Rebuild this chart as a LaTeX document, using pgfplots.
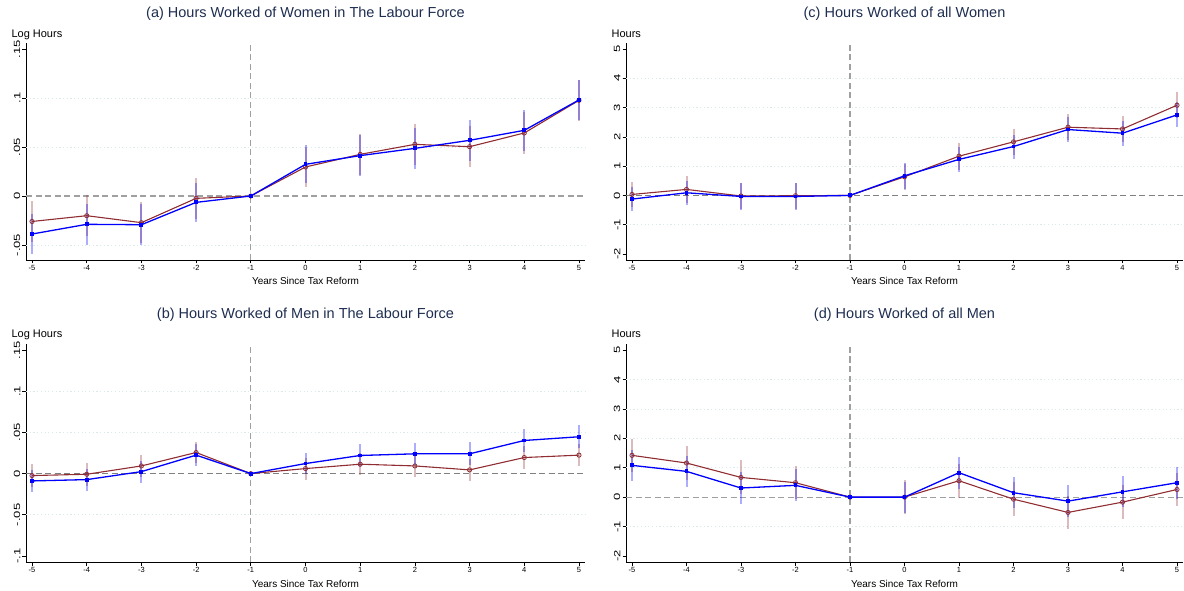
\documentclass[border=0pt]{standalone}
\usepackage{fontspec}
\setmainfont{Liberation Sans}
\usepackage{pgfplots}
\pgfplotsset{compat=1.18}
\usepackage{pgfplotstable}
\definecolor{mar}{RGB}{144,45,50}
\definecolor{blu}{RGB}{0,0,255}
\definecolor{titc}{RGB}{30,45,80}
\definecolor{gridc}{RGB}{218,234,234}
\definecolor{refc}{RGB}{160,160,160}

% x: years; r/re: red estimate and CI half-width; b/be: blue estimate and CI half-width
\pgfplotstableread{
x r re b be
-5 -0.0260 0.0205 -0.0388 0.0207
-4 -0.0201 0.0210 -0.0289 0.0206
-3 -0.0272 0.0210 -0.0293 0.0210
-2 -0.0024 0.0208 -0.0065 0.0200
-1 0 0 0 0
0 0.0296 0.0204 0.0323 0.0195
1 0.0425 0.0210 0.0412 0.0210
2 0.0527 0.0210 0.0486 0.0206
3 0.0503 0.0210 0.0568 0.0207
4 0.0643 0.0210 0.0670 0.0207
5 0.0976 0.0210 0.0980 0.0205
}\tabA
\pgfplotstableread{
x r re b be
-5 -0.0024 0.0135 -0.0089 0.0134
-4 -0.0008 0.0137 -0.0073 0.0134
-3 0.0093 0.0137 0.0024 0.0134
-2 0.0256 0.0130 0.0224 0.0130
-1 0 0 0 0
0 0.0061 0.0134 0.0122 0.0130
1 0.0114 0.0134 0.0220 0.0136
2 0.0093 0.0134 0.0240 0.0136
3 0.0045 0.0134 0.0240 0.0138
4 0.0195 0.0134 0.0402 0.0138
5 0.0224 0.0134 0.0447 0.0138
}\tabB
\pgfplotstableread{
x r re b be
-5 0.034 0.44 -0.125 0.40
-4 0.205 0.45 0.090 0.40
-3 -0.020 0.45 -0.035 0.45
-2 -0.010 0.45 -0.035 0.45
-1 0 0 0 0
0 0.636 0.45 0.670 0.44
1 1.340 0.46 1.230 0.43
2 1.830 0.45 1.670 0.41
3 2.330 0.45 2.250 0.43
4 2.270 0.45 2.125 0.43
5 3.080 0.45 2.750 0.43
}\tabC
\pgfplotstableread{
x r re b be
-5 1.420 0.57 1.080 0.52
-4 1.160 0.57 0.875 0.53
-3 0.670 0.58 0.310 0.54
-2 0.490 0.57 0.400 0.54
-1 0 0 0 0
0 0.000 0.57 0.000 0.53
1 0.557 0.57 0.830 0.54
2 -0.070 0.57 0.150 0.53
3 -0.520 0.57 -0.136 0.54
4 -0.170 0.57 0.180 0.53
5 0.260 0.57 0.490 0.54
}\tabD

\tikzset{
  gridl/.style={gridc, line width=0.7pt, dash pattern=on 1.2pt off 2.5pt},
  refl/.style={refc, line width=1.1pt, dash pattern=on 6pt off 3.5pt},
}
\pgfplotsset{
  panel/.style={
    scale only axis,
    xmin=-5.11, xmax=5.11,
    axis x line*=bottom, axis y line*=left,
    axis line style={black, line width=0.9pt, -},
    xtick={-5,-4,-3,-2,-1,0,1,2,3,4,5},
    xticklabels={-5,-4,-3,-2,-1,0,1,2,3,4,5},
    tick align=outside, major tick length=3.5pt,
    tick style={black, line width=0.7pt},
    xticklabel style={font=\fontsize{7.5}{8}\selectfont, inner sep=1.5pt},
    yticklabel style={font=\fontsize{9}{10}\selectfont, rotate=90, xscale=1.45, anchor=south, inner sep=2pt},
    xlabel={Years Since Tax Reform},
    xlabel style={font=\fontsize{10}{12}\selectfont, at={(axis description cs:0.5,-0.115)}, anchor=base},
    title style={font=\fontsize{14.5}{17}\selectfont, color=titc, at={(axis description cs:0.5,1.0876)}, anchor=base},
    ylabel style={font=\fontsize{11}{13}\selectfont, rotate=-90, at={(axis description cs:-0.0322,1.0276)}, anchor=base west},
    clip mode=individual,
  },
  cir/.style={draw=none, mark=none, forget plot,
    error bars/.cd, y dir=both, y explicit, error mark=none,
    error bar style={line width=2pt, color=#1, opacity=0.32}},
  redl/.style={mar, line width=1.1pt, mark=o, mark size=2.1pt, mark options={line width=0.8pt, fill=mar!25}},
  blul/.style={blu, line width=1.3pt, mark=square*, mark size=1.3pt},
}

\begin{document}
\begin{tikzpicture}
\useasboundingbox (0,0) rectangle (1184pt,590pt);

% (a)
\begin{axis}[panel, at={(26pt,330pt)}, anchor=south west, width=559pt, height=217pt,
  ymin=-0.0653, ymax=0.1561,
  ytick={-0.05,0,0.05,0.1,0.15}, yticklabels={-.05,0,.05,.1,.15},
  title={(a) Hours Worked of Women in The Labour Force}, ylabel={Log Hours}]
  \draw[gridl] ({rel axis cs:0,0}|-{axis cs:0,0.1}) -- ({rel axis cs:1,0}|-{axis cs:0,0.1});
  \draw[gridl] ({rel axis cs:0,0}|-{axis cs:0,0.05}) -- ({rel axis cs:1,0}|-{axis cs:0,0.05});
  \draw[gridl] ({rel axis cs:0,0}|-{axis cs:0,-0.05}) -- ({rel axis cs:1,0}|-{axis cs:0,-0.05});
  \draw[refl] ({rel axis cs:0,0}|-{axis cs:0,0}) -- ({rel axis cs:1,0}|-{axis cs:0,0});
  \draw[refl] ({axis cs:-1,0}|-{rel axis cs:0,0}) -- ({axis cs:-1,0}|-{rel axis cs:0,1});
  \addplot[cir=mar] table[x=x, y=r, y error=re] {\tabA};
  \addplot[cir=blu] table[x=x, y=b, y error=be] {\tabA};
  \addplot[redl] table[x=x, y=r] {\tabA};
  \addplot[blul] table[x=x, y=b] {\tabA};
\end{axis}

% (c)
\begin{axis}[panel, at={(626pt,330pt)}, anchor=south west, width=557pt, height=217pt,
  ymin=-2.205, ymax=5.205,
  ytick={-2,-1,0,1,2,3,4,5}, yticklabels={-2,-1,0,1,2,3,4,5},
  title={(c) Hours Worked of all Women}, ylabel={Hours}]
  \draw[gridl] ({rel axis cs:0,0}|-{axis cs:0,4}) -- ({rel axis cs:1,0}|-{axis cs:0,4});
  \draw[gridl] ({rel axis cs:0,0}|-{axis cs:0,3}) -- ({rel axis cs:1,0}|-{axis cs:0,3});
  \draw[gridl] ({rel axis cs:0,0}|-{axis cs:0,2}) -- ({rel axis cs:1,0}|-{axis cs:0,2});
  \draw[gridl] ({rel axis cs:0,0}|-{axis cs:0,1}) -- ({rel axis cs:1,0}|-{axis cs:0,1});
  \draw[gridl] ({rel axis cs:0,0}|-{axis cs:0,-1}) -- ({rel axis cs:1,0}|-{axis cs:0,-1});
  \draw[refl, line width=0.8pt, refc!80!black] ({rel axis cs:0,0}|-{axis cs:0,0}) -- ({rel axis cs:1,0}|-{axis cs:0,0});
  \draw[refl] ({axis cs:-1,0}|-{rel axis cs:0,0}) -- ({axis cs:-1,0}|-{rel axis cs:0,1});
  \addplot[cir=mar] table[x=x, y=r, y error=re] {\tabC};
  \addplot[cir=blu] table[x=x, y=b, y error=be] {\tabC};
  \addplot[redl] table[x=x, y=r] {\tabC};
  \addplot[blul] table[x=x, y=b] {\tabC};
\end{axis}

% (b)
\begin{axis}[panel, at={(26pt,28pt)}, anchor=south west, width=559pt, height=218pt,
  ymin=-0.1073, ymax=0.1573,
  ytick={-0.1,-0.05,0,0.05,0.1,0.15}, yticklabels={-.1,-.05,0,.05,.1,.15},
  title={(b) Hours Worked of Men in The Labour Force}, ylabel={Log Hours}]
  \draw[gridl] ({rel axis cs:0,0}|-{axis cs:0,0.1}) -- ({rel axis cs:1,0}|-{axis cs:0,0.1});
  \draw[gridl] ({rel axis cs:0,0}|-{axis cs:0,0.05}) -- ({rel axis cs:1,0}|-{axis cs:0,0.05});
  \draw[gridl] ({rel axis cs:0,0}|-{axis cs:0,-0.05}) -- ({rel axis cs:1,0}|-{axis cs:0,-0.05});
  \draw[refl, line width=0.8pt, refc!80!black] ({rel axis cs:0,0}|-{axis cs:0,0}) -- ({rel axis cs:1,0}|-{axis cs:0,0});
  \draw[refl] ({axis cs:-1,0}|-{rel axis cs:0,0}) -- ({axis cs:-1,0}|-{rel axis cs:0,1});
  \addplot[cir=mar] table[x=x, y=r, y error=re] {\tabB};
  \addplot[cir=blu] table[x=x, y=b, y error=be] {\tabB};
  \addplot[redl] table[x=x, y=r] {\tabB};
  \addplot[blul] table[x=x, y=b] {\tabB};
\end{axis}

% (d)
\begin{axis}[panel, at={(626pt,28pt)}, anchor=south west, width=557pt, height=218pt,
  ymin=-2.205, ymax=5.205,
  ytick={-2,-1,0,1,2,3,4,5}, yticklabels={-2,-1,0,1,2,3,4,5},
  title={(d) Hours Worked of all Men}, ylabel={Hours}]
  \draw[gridl] ({rel axis cs:0,0}|-{axis cs:0,4}) -- ({rel axis cs:1,0}|-{axis cs:0,4});
  \draw[gridl] ({rel axis cs:0,0}|-{axis cs:0,3}) -- ({rel axis cs:1,0}|-{axis cs:0,3});
  \draw[gridl] ({rel axis cs:0,0}|-{axis cs:0,2}) -- ({rel axis cs:1,0}|-{axis cs:0,2});
  \draw[gridl] ({rel axis cs:0,0}|-{axis cs:0,1}) -- ({rel axis cs:1,0}|-{axis cs:0,1});
  \draw[gridl] ({rel axis cs:0,0}|-{axis cs:0,-1}) -- ({rel axis cs:1,0}|-{axis cs:0,-1});
  \draw[refl] ({rel axis cs:0,0}|-{axis cs:0,0}) -- ({rel axis cs:1,0}|-{axis cs:0,0});
  \draw[refl] ({axis cs:-1,0}|-{rel axis cs:0,0}) -- ({axis cs:-1,0}|-{rel axis cs:0,1});
  \addplot[cir=mar] table[x=x, y=r, y error=re] {\tabD};
  \addplot[cir=blu] table[x=x, y=b, y error=be] {\tabD};
  \addplot[redl] table[x=x, y=r] {\tabD};
  \addplot[blul] table[x=x, y=b] {\tabD};
\end{axis}
\end{tikzpicture}
\end{document}
